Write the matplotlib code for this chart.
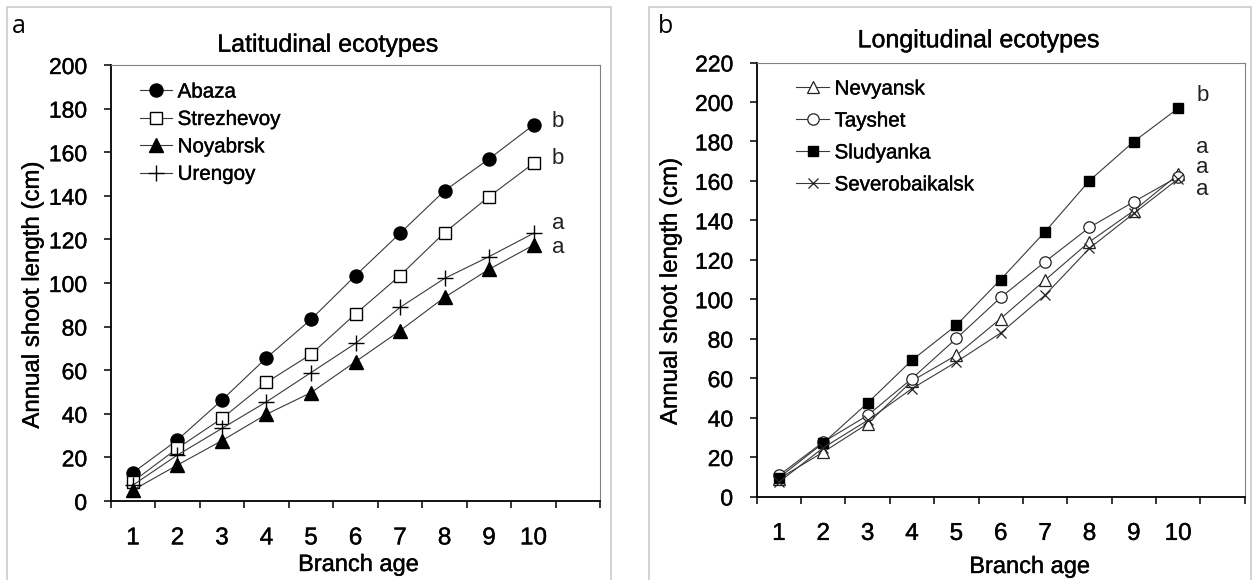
import matplotlib
matplotlib.use("Agg")
import matplotlib.pyplot as plt
import matplotlib.patheffects as pe
from matplotlib.patches import Rectangle

plt.rcParams['font.family'] = ['Liberation Sans', 'DejaVu Sans']

# ---------------- data ----------------
branch_age = [1, 2, 3, 4, 5, 6, 7, 8, 9, 10]
age_labels = ['1', '2', '3', '4', '5', '6', '7', '8', '9', '10']

# Panel a: latitudinal ecotypes
abaza      = [13.0, 28.0, 46.3, 65.7, 83.3, 103.4, 122.8, 142.3, 156.9, 172.5]
strezhevoy = [8.9, 24.2, 37.9, 54.4, 67.3, 85.8, 103.4, 123.1, 139.6, 154.9]
noyabrsk   = [5.0, 16.5, 27.7, 39.8, 49.7, 63.9, 78.1, 93.4, 106.3, 117.4]
urengoy    = [7.3, 21.1, 33.3, 45.5, 58.9, 72.3, 88.8, 102.1, 112.1, 122.8]
letters_a = ['b', 'b', 'a', 'a']
letters_a_y = [174.3, 156.9, 127.5, 116.5]

# Panel b: longitudinal ecotypes
nevyansk       = [9.0, 22.5, 36.9, 58.6, 71.6, 90.2, 109.7, 129.1, 144.9, 163.3]
tayshet        = [10.7, 27.6, 41.1, 59.8, 80.1, 100.9, 119.0, 136.4, 149.4, 162.1]
sludyanka      = [9.5, 27.1, 47.4, 69.1, 86.8, 110.0, 134.2, 160.1, 179.9, 196.8]
severobaikalsk = [7.3, 24.7, 38.6, 54.7, 68.2, 82.9, 102.1, 125.8, 143.5, 161.0]
letters_b = ['b', 'a', 'a', 'a']
letters_b_y = [203.1, 177.1, 166.9, 155.4]

W, H = 1254, 580
fig = plt.figure(figsize=(W / 100, H / 100), dpi=100)

heavy = [pe.withStroke(linewidth=0.3, foreground='#111111')]

def fx(px):
    return px / W

def fy(py):
    return 1 - py / H

# panel frames (light grey boxes)
for x0, x1 in [(7, 611), (649, 1251)]:
    fig.patches.append(Rectangle((fx(x0), fy(600)), fx(x1) - fx(x0), fy(7) - fy(600),
                                 transform=fig.transFigure, fill=False,
                                 edgecolor='#c8c8c8', linewidth=1.1))

ax1 = fig.add_axes([fx(110.7), fy(501), fx(600.3) - fx(110.7), fy(65) - fy(501)])
ax2 = fig.add_axes([fx(756.7), fy(496.5), fx(1244.7) - fx(756.7), fy(62.5) - fy(496.5)])

line_kw = dict(color='#3a3a3a', linewidth=0.8)

# panel a
ax1.plot(branch_age, abaza, marker='o', ms=9.4, mfc='black', mec='black', label='Abaza', **line_kw)
ax1.plot(branch_age, strezhevoy, marker='s', ms=9.0, mfc='white', mec='black', mew=1.0, label='Strezhevoy', **line_kw)
ax1.plot(branch_age, noyabrsk, marker='^', ms=9.6, mfc='black', mec='black', label='Noyabrsk', **line_kw)
ax1.plot(branch_age, urengoy, marker='+', ms=11, mec='black', mew=1.0, label='Urengoy', **line_kw)

# panel b
ax2.plot(branch_age, nevyansk, marker='^', ms=8.5, mfc='white', mec='#222222', mew=0.9, label='Nevyansk', **line_kw)
ax2.plot(branch_age, tayshet, marker='o', ms=8.2, mfc='white', mec='#222222', mew=0.9, label='Tayshet', **line_kw)
ax2.plot(branch_age, sludyanka, marker='s', ms=7.4, mfc='black', mec='black', label='Sludyanka', **line_kw)
ax2.plot(branch_age, severobaikalsk, marker='x', ms=7.6, mec='#222222', mew=0.9, label='Severobaikalsk', **line_kw)

for ax, ymax, step in [(ax1, 200, 20), (ax2, 220, 20)]:
    ax.set_xlim(0.5, 11.5)
    ax.set_ylim(0, ymax)
    ax.set_yticks(range(0, ymax + 1, step))
    ax.set_xticks([x + 0.5 for x in range(0, 12)], minor=False)
    ax.set_xticklabels([])
    ax.set_xticks(branch_age, minor=True)
    ax.set_xticklabels(age_labels, minor=True)
    ax.tick_params(axis='x', which='major', direction='out', length=5, width=1.1, color='black')
    ax.tick_params(axis='x', which='minor', length=0, pad=19, labelsize=17.5)
    ax.tick_params(axis='y', direction='out', length=5, width=1.1, pad=12, labelsize=16.5)
    ax.spines['left'].set_linewidth(1.3)
    ax.spines['bottom'].set_linewidth(1.3)
    ax.spines['left'].set_color('black')
    ax.spines['bottom'].set_color('black')
    for s in ('top', 'right'):
        ax.spines[s].set_linewidth(0.8)
        ax.spines[s].set_color('#808080')
    ax.set_facecolor('white')
    for t in ax.get_yticklabels() + ax.get_xticklabels(minor=True):
        t.set_path_effects(heavy)

for lab, yv in zip(letters_a, letters_a_y):
    ax1.text(10.55, yv, lab, ha='center', va='center', fontsize=16, color='#222222')
for lab, yv in zip(letters_b, letters_b_y):
    ax2.text(10.55, yv, lab, ha='center', va='center', fontsize=16, color='#222222')

leg1 = ax1.legend(loc='upper left', bbox_to_anchor=(fx(140), fy(82.5)), bbox_transform=fig.transFigure,
                  frameon=False, fontsize=14.8, handlelength=1.55, handletextpad=0.28,
                  labelspacing=0.41, borderpad=0, borderaxespad=0)
leg2 = ax2.legend(loc='upper left', bbox_to_anchor=(fx(795.7), fy(79.5)), bbox_transform=fig.transFigure,
                  frameon=False, fontsize=14.8, handlelength=1.64, handletextpad=0.25,
                  labelspacing=0.63, borderpad=0, borderaxespad=0)
for leg in (leg1, leg2):
    for t in leg.get_texts():
        t.set_path_effects(heavy)

# titles
fig.text(fx(327.5), fy(51.7), 'Latitudinal ecotypes', ha='center', va='baseline', fontsize=18, path_effects=heavy)
fig.text(fx(978.3), fy(47.3), 'Longitudinal ecotypes', ha='center', va='baseline', fontsize=18, path_effects=heavy)

# axis labels
fig.text(fx(358.5), fy(571), 'Branch age', ha='center', va='baseline', fontsize=17, path_effects=heavy)
fig.text(fx(1029.7), fy(573), 'Branch age', ha='center', va='baseline', fontsize=17, path_effects=heavy)
fig.text(fx(32.7), fy(295.6), 'Annual shoot length (cm)', ha='center', va='center', rotation=90,
         fontsize=17.3, path_effects=heavy)
fig.text(fx(670.7), fy(292), 'Annual shoot length (cm)', ha='center', va='center', rotation=90,
         fontsize=17.3, path_effects=heavy)

# panel letters
fig.text(fx(12), fy(33), 'a', ha='left', va='baseline', fontsize=18, family=['Open Sans', 'DejaVu Sans'])
fig.text(fx(658), fy(33), 'b', ha='left', va='baseline', fontsize=18, family=['Open Sans', 'DejaVu Sans'])

fig.savefig('out.png', dpi=100, facecolor='white')
